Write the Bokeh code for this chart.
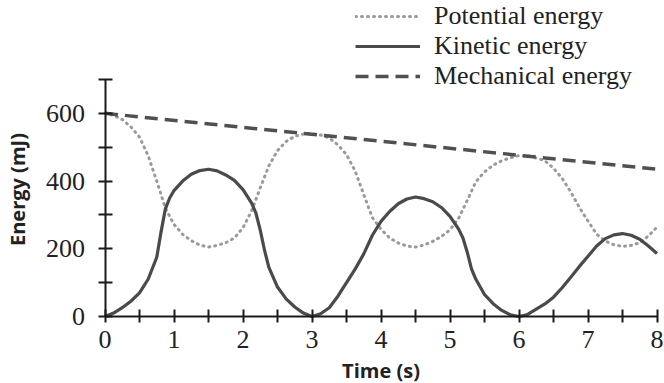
import math
from bokeh.plotting import figure
from bokeh.models import FixedTicker, Legend, LegendItem, Range1d, Label
from bokeh.embed import file_html
from bokeh.resources import INLINE

# ---- data ----
time_pe = [0, 0.125, 0.25, 0.375, 0.5, 0.625, 0.75, 0.875, 1.0, 1.125, 1.25, 1.375,
           1.5, 1.625, 1.75, 1.875, 2.0, 2.125, 2.25, 2.375, 2.5, 2.625, 2.75, 2.875,
           3.0, 3.125, 3.25, 3.375, 3.5, 3.625, 3.75, 3.875, 4.0, 4.125, 4.25, 4.375,
           4.5, 4.625, 4.75, 4.875, 5.0, 5.125, 5.25, 5.375, 5.5, 5.625, 5.75, 5.875,
           6.0, 6.125, 6.25, 6.375, 6.5, 6.625, 6.75, 6.875, 7.0, 7.125, 7.25, 7.375,
           7.5, 7.625, 7.75, 7.875, 8.0]
potential = [600, 594, 582, 560, 530, 475, 400, 320, 272, 243, 224, 211,
             205, 210, 218, 232, 262, 312, 380, 445, 490, 517, 532, 539,
             540, 536, 527, 507, 478, 430, 360, 292, 258, 232, 217, 208,
             205, 211, 222, 236, 256, 290, 343, 398, 427, 447, 460, 469,
             475, 475, 468, 460, 438, 408, 368, 322, 282, 243, 223, 212,
             207, 210, 218, 238, 264]

time_ke = [0, 0.125, 0.25, 0.375, 0.5, 0.625, 0.75, 0.8125, 0.875, 0.9375, 1.0,
           1.125, 1.25, 1.375, 1.5, 1.625, 1.75, 1.875, 2.0, 2.125, 2.1875, 2.25,
           2.3125, 2.375, 2.5, 2.625, 2.75, 2.875, 3.0, 3.125, 3.25, 3.375, 3.5,
           3.625, 3.75, 3.875, 4.0, 4.125, 4.25, 4.375, 4.5, 4.625, 4.75, 4.875,
           5.0, 5.125, 5.1875, 5.25, 5.3125, 5.375, 5.5, 5.625, 5.75, 5.875, 6.0,
           6.125, 6.25, 6.375, 6.5, 6.625, 6.75, 6.875, 7.0, 7.125, 7.25, 7.375,
           7.5, 7.625, 7.75, 7.875, 8.0]
kinetic = [0, 10, 26, 45, 70, 110, 175, 250, 318, 350, 372,
           400, 420, 431, 435, 430, 418, 402, 375, 335, 305, 255,
           195, 145, 87, 52, 28, 10, 0, 8, 26, 60, 100,
           140, 185, 240, 281, 310, 333, 347, 353, 348, 339, 322,
           296, 258, 232, 190, 140, 110, 65, 38, 18, 5, 0,
           6, 22, 37, 57, 85, 116, 148, 178, 208, 230, 241,
           245, 240, 228, 208, 186]

time_me = [0, 8]
mechanical = [600, 435]

x_ticks = [0, 1, 2, 3, 4, 5, 6, 7, 8]
x_minor_ticks = [0.5, 1.5, 2.5, 3.5, 4.5, 5.5, 6.5, 7.5]
y_ticks = [0, 200, 400, 600]
y_minor_ticks = [100, 300, 500, 700]

series_labels = ["Potential energy", "Kinetic energy", "Mechanical energy"]
x_title = "Time (s)"
y_title = "Energy (mJ)"

# the frame covers the whole canvas; axes are pinned at 0 and limited by bounds
p = figure(width=664, height=383,
           x_range=Range1d(-104.5 / 69, 8 + 7.5 / 69),
           y_range=Range1d(-67 / (237 / 700), 700 + 79 / (237 / 700)),
           output_backend="svg", toolbar_location=None,
           min_border_left=0, min_border_right=0, min_border_top=0, min_border_bottom=0)
p.outline_line_color = None
p.grid.visible = False
p.background_fill_color = "white"
p.border_fill_color = "white"

r_pe = p.line(time_pe, potential, line_color="#9a9a9a", line_width=3,
              line_dash="1 5", line_cap="round")
r_me = p.line(time_me, mechanical, line_color="#505050", line_width=3.5, line_dash="13 7")
r_ke = p.line(time_ke, kinetic, line_color="#4a4a4a", line_width=3.2, line_join="round")

for ax in (p.xaxis[0], p.yaxis[0]):
    ax.fixed_location = 0
    ax.axis_line_color = "#1a1a1a"
    ax.axis_line_width = 2
    ax.major_tick_line_color = "#1a1a1a"
    ax.minor_tick_line_color = "#1a1a1a"
    ax.major_tick_line_width = 2
    ax.minor_tick_line_width = 2
    ax.major_label_text_font = "Liberation Serif"
    ax.major_label_text_font_size = "26px"
    ax.major_label_text_color = "#222222"

p.xaxis.bounds = (0, 8)
p.yaxis.bounds = (0, 700)
p.xaxis.ticker = FixedTicker(ticks=x_ticks, minor_ticks=x_minor_ticks)
p.yaxis.ticker = FixedTicker(ticks=y_ticks, minor_ticks=y_minor_ticks)
p.xaxis.major_tick_in = 7
p.xaxis.major_tick_out = 6
p.xaxis.minor_tick_in = 7
p.xaxis.minor_tick_out = 6
p.yaxis.major_tick_in = 7
p.yaxis.major_tick_out = 7
p.yaxis.minor_tick_in = 7
p.yaxis.minor_tick_out = 7
p.xaxis.major_label_standoff = 8
p.yaxis.major_label_standoff = 13

p.add_layout(Label(x=4, y=-160, text=x_title, text_align="center",
                   text_baseline="alphabetic",
                   text_font="Open Sans", text_font_style="bold", text_font_size="20px",
                   text_color="#222222"))
p.add_layout(Label(x=-88 / 69, y=375, text=y_title, angle=math.pi / 2,
                   text_align="center", text_baseline="middle",
                   text_font="Open Sans", text_font_style="bold", text_font_size="20px",
                   text_color="#222222"))

legend = Legend(items=[LegendItem(label=series_labels[0], renderers=[r_pe]),
                       LegendItem(label=series_labels[1], renderers=[r_ke]),
                       LegendItem(label=series_labels[2], renderers=[r_me])],
                location=(355, 292), orientation="vertical", padding=0, margin=0,
                spacing=0, glyph_width=65, glyph_height=26, label_height=26,
                label_standoff=14, label_text_font="Liberation Serif",
                label_text_font_size="26px", label_text_color="#222222",
                background_fill_alpha=0, border_line_alpha=0)
p.add_layout(legend)

open("out.html", "w").write(file_html(p, INLINE))
